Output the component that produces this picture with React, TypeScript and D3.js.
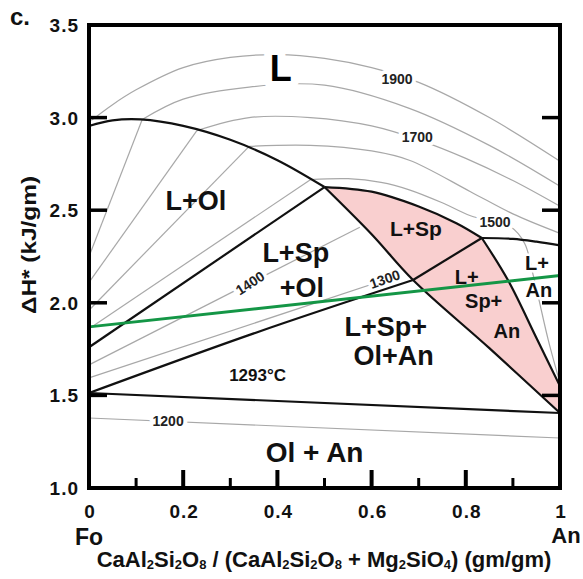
import React from 'react';
import * as d3 from 'd3';

type P = [number, number];

const W = 583;
const H = 579;

// Axis ticks
const xMajorTicks = [0.2, 0.4, 0.6, 0.8];
const xMinorTicks = [0.1, 0.3, 0.5, 0.7, 0.9];
const xLabelValues = [0, 0.2, 0.4, 0.6, 0.8, 1];
const xLabelText = ['0', '0.2', '0.4', '0.6', '0.8', '1'];
const yTickValues = [1.5, 2.0, 2.5, 3.0];
const yLabelValues = [1.0, 1.5, 2.0, 2.5, 3.0, 3.5];
const yLabelText = ['1.0', '1.5', '2.0', '2.5', '3.0', '3.5'];

// Phase boundaries (x = CaAl2Si2O8 fraction, y = ΔH* kJ/gm)
const olLiquidus: P[] = [[0, 2.955], [0.05, 2.985], [0.11, 2.99], [0.2, 2.955], [0.3, 2.88], [0.4, 2.77], [0.5, 2.625]];
const spLiquidus: P[] = [[0.5, 2.625], [0.6, 2.6], [0.7, 2.52], [0.78, 2.43], [0.834, 2.35]];
const anLiquidus: P[] = [[0.834, 2.35], [0.9, 2.345], [0.95, 2.33], [1, 2.31]];
const olSpBoundary: P[] = [[0, 1.76], [0.5, 2.625]];
const olSpAnBoundary: P[] = [[0, 1.513], [0.35, 1.835], [0.688, 2.123]];
const spAnInner: P[] = [[0.688, 2.123], [0.834, 2.35]];
const pinkLeft: P[] = [[0.5, 2.625], [0.6, 2.37], [0.688, 2.123], [0.85, 1.755], [1, 1.405]];
const pinkRight: P[] = [[0.834, 2.35], [0.89, 2.12], [0.95, 1.81], [1, 1.55]];
const solidus: P[] = [[0, 1.513], [1, 1.405]];
const greenLine: P[] = [[0, 1.87], [1, 2.147]];

// Isotherms (grey)
const iso1900: P[] = [[0.005, 2.985], [0.05, 3.07], [0.1, 3.15], [0.2, 3.27], [0.3, 3.325], [0.4, 3.34], [0.5, 3.32], [0.6, 3.27], [0.7, 3.19], [0.85, 3.0], [1, 2.764]];
const iso1800: P[] = [[0.113, 2.99], [0.2, 3.1], [0.34, 3.165], [0.5, 3.175], [0.68, 3.05], [0.85, 2.85], [1, 2.629]];
const iso1700: P[] = [[0.229, 2.93], [0.34, 3.0], [0.47, 3.0], [0.6, 2.955], [0.7, 2.88], [0.8, 2.78], [0.9, 2.66], [1, 2.521]];
const iso1600: P[] = [[0.34, 2.845], [0.47, 2.85], [0.6, 2.82], [0.68, 2.77], [0.81, 2.6], [0.9, 2.48], [1, 2.375]];
const iso1500: P[] = [[0.47, 2.665], [0.55, 2.67], [0.62, 2.65], [0.68, 2.61], [0.75, 2.54], [0.81, 2.47], [0.895, 2.41], [0.925, 2.32], [0.943, 2.15], [0.955, 2.02], [0.975, 1.8], [1, 1.567]];
const iso1400: P[] = [[0, 1.665], [0.575, 2.408]];
const iso1300: P[] = [[0, 1.595], [0.66, 2.15]];
const iso1200: P[] = [[0, 1.378], [1, 1.27]];
// tie lines in L+Ol field: liquidus point -> Fo axis
const tieTop: P[] = [[0.113, 2.99], [0.229, 2.93], [0.34, 2.845], [0.47, 2.665]];
const tieBase = [2.25, 2.11, 1.96, 1.86];

// Isotherm labels
const isoLabelText = ['1900', '1700', '1500', '1200'];
const isoLabelPos: P[] = [[0.654, 3.21], [0.697, 2.895], [0.862, 2.436], [0.168, 1.362]];
const rotLabelText = ['1400', '1300'];
const rotLabelPos: P[] = [[0.342, 2.107], [0.628, 2.128]];
const rotLabelAngle = [-33, -19];

// Region labels
const regionText = ['L+Ol', 'L+Sp', '+Ol', 'L+Sp+', 'Ol+An', 'Ol + An', 'L+Sp', 'L+', 'Sp+', 'An'];
const regionPos: P[] = [[0.227, 2.5], [0.439, 2.22], [0.452, 2.03], [0.63, 1.82], [0.647, 1.665], [0.479, 1.14], [0.694, 2.36], [0.802, 2.1], [0.838, 1.97], [0.887, 1.81]];
const regionSize = [27, 27, 27, 27, 27, 28, 21, 20, 20, 20];
const rightLabelText = ['L+', 'An'];
const rightLabelPos: P[] = [[0.951, 2.175], [0.955, 2.03]];

const x = d3.scaleLinear().domain([0, 1]).range([89, 560]);
const y = d3.scaleLinear().domain([1, 3.5]).range([488, 25]);

const curved = d3.line<P>().x(d => x(d[0])).y(d => y(d[1])).curve(d3.curveCatmullRom.alpha(0.5));
const straight = d3.line<P>().x(d => x(d[0])).y(d => y(d[1]));

const FONT = "'Liberation Sans', Arial, Helvetica, sans-serif";
const GREY = '#a8a8a8';

function joinSegments(segs: P[][]): string {
  return segs.map((s, i) => {
    const p = curved(s) || '';
    return i === 0 ? p : p.replace(/^M/, 'L');
  }).join('') + 'Z';
}

export default function App() {
  const pinkPath = joinSegments([
    pinkLeft,
    [[1, 1.405], [1, 1.55]],
    [...pinkRight].reverse(),
    [...spLiquidus].reverse(),
  ]);

  const greyLines: P[][] = [iso1900, iso1800, iso1700, iso1600, iso1500, iso1400, iso1300, iso1200,
    ...tieTop.map((t, i) => [t, [0, tieBase[i]]] as P[])];

  const blackLines: P[][] = [olLiquidus, spLiquidus, anLiquidus, olSpBoundary, olSpAnBoundary, spAnInner, pinkLeft, pinkRight, solidus];

  const sub = (t: string) => <tspan fontSize={13} dy={2}>{t}</tspan>;
  const up = (t: string) => <tspan dy={-2}>{t}</tspan>;

  return (
    <svg width={W} height={H} style={{ position: 'absolute', left: 0, top: 0, background: '#fff' }} fontFamily={FONT}>
      <rect x={0} y={0} width={W} height={H} fill="#fff" />
      <path d={pinkPath} fill="#f9cfcf" stroke="none" />

      {greyLines.map((l, i) => (
        <path key={'g' + i} d={curved(l) || ''} fill="none" stroke={GREY} strokeWidth={1.2} />
      ))}

      {/* isotherm labels with white halo */}
      <text x={x(0.407)} y={y(3.195)} fontSize={36} fontWeight="bold" textAnchor="middle"
        stroke="#fff" strokeWidth={16} strokeLinejoin="round" paintOrder="stroke" fill="#000">L</text>
      {isoLabelText.map((t, i) => (
        <text key={'il' + i} x={x(isoLabelPos[i][0])} y={y(isoLabelPos[i][1])} dy={5} fontSize={14} fontWeight="bold"
          textAnchor="middle" stroke="#fff" strokeWidth={8} strokeLinejoin="round" paintOrder="stroke" fill="#222">{t}</text>
      ))}
      {rotLabelText.map((t, i) => (
        <text key={'rl' + i} transform={`translate(${x(rotLabelPos[i][0])},${y(rotLabelPos[i][1])}) rotate(${rotLabelAngle[i]})`}
          dy={5} fontSize={14} fontWeight="bold" textAnchor="middle" stroke="#fff" strokeWidth={7}
          strokeLinejoin="round" paintOrder="stroke" fill="#222">{t}</text>
      ))}
      {rightLabelText.map((t, i) => (
        <text key={'rt' + i} x={x(rightLabelPos[i][0])} y={y(rightLabelPos[i][1])} fontSize={20} fontWeight="bold"
          textAnchor="middle" stroke="#fff" strokeWidth={5} strokeLinejoin="round" paintOrder="stroke" fill="#111">{t}</text>
      ))}

      {blackLines.map((l, i) => (
        <path key={'b' + i} d={(l.length > 2 ? curved(l) : straight(l)) || ''} fill="none" stroke="#111" strokeWidth={2.2} />
      ))}

      <path d={straight(greenLine) || ''} fill="none" stroke="#149646" strokeWidth={3} />

      {regionText.map((t, i) => (
        <text key={'r' + i} x={x(regionPos[i][0])} y={y(regionPos[i][1])} fontSize={regionSize[i]} fontWeight="bold"
          textAnchor="middle" fill="#111">{t}</text>
      ))}
      <text x={x(0.358)} y={y(1.58)} fontSize={17} fontWeight="bold" textAnchor="middle" fill="#111">1293°C</text>

      {/* frame */}
      <rect x={x(0)} y={y(3.5)} width={x(1) - x(0)} height={y(1) - y(3.5)} fill="none" stroke="#000" strokeWidth={4} />

      {/* ticks */}
      {yTickValues.map((v, i) => (
        <g key={'yt' + i}>
          <line x1={x(0)} x2={x(0) + 18} y1={y(v)} y2={y(v)} stroke="#000" strokeWidth={3.5} />
          <line x1={x(1)} x2={x(1) - 18} y1={y(v)} y2={y(v)} stroke="#000" strokeWidth={3.5} />
        </g>
      ))}
      {xMajorTicks.map((v, i) => (
        <line key={'xM' + i} x1={x(v)} x2={x(v)} y1={y(1)} y2={y(1) - 18} stroke="#000" strokeWidth={4} />
      ))}
      {xMinorTicks.map((v, i) => (
        <line key={'xm' + i} x1={x(v)} x2={x(v)} y1={y(1)} y2={y(1) - 10} stroke="#000" strokeWidth={3} />
      ))}

      {/* tick labels */}
      {yLabelValues.map((v, i) => (
        <text key={'yl' + i} x={79} y={y(v) + 7} fontSize={19} fontWeight="bold" letterSpacing={1} textAnchor="end" fill="#111">{yLabelText[i]}</text>
      ))}
      {xLabelValues.map((v, i) => (
        <text key={'xl' + i} x={x(v) + 1} y={518} fontSize={19} fontWeight="bold" letterSpacing={1} textAnchor="middle" fill="#111">{xLabelText[i]}</text>
      ))}
      <text x={x(0)} y={545} fontSize={23} fontWeight="bold" textAnchor="middle" fill="#111">Fo</text>
      <text x={566} y={543} fontSize={22} fontWeight="bold" textAnchor="middle" fill="#111">An</text>

      <text x={10} y={25} fontSize={24} fontWeight="bold" fill="#111">c.</text>

      {/* axis titles */}
      <text x={324} y={567} fontSize={22} fontWeight="bold" textAnchor="middle" fill="#111">
        CaAl{sub('2')}{up('Si')}{sub('2')}{up('O')}{sub('8')}{up(' / (CaAl')}{sub('2')}{up('Si')}{sub('2')}{up('O')}{sub('8')}{up(' + Mg')}{sub('2')}{up('SiO')}{sub('4')}{up(') (gm/gm)')}
      </text>
      <text transform={`translate(36,245) rotate(-90)`} fontSize={21} fontWeight="bold" textAnchor="middle"
        textLength={138} lengthAdjust="spacingAndGlyphs" fill="#111">ΔH* (kJ/gm)</text>
    </svg>
  );
}
